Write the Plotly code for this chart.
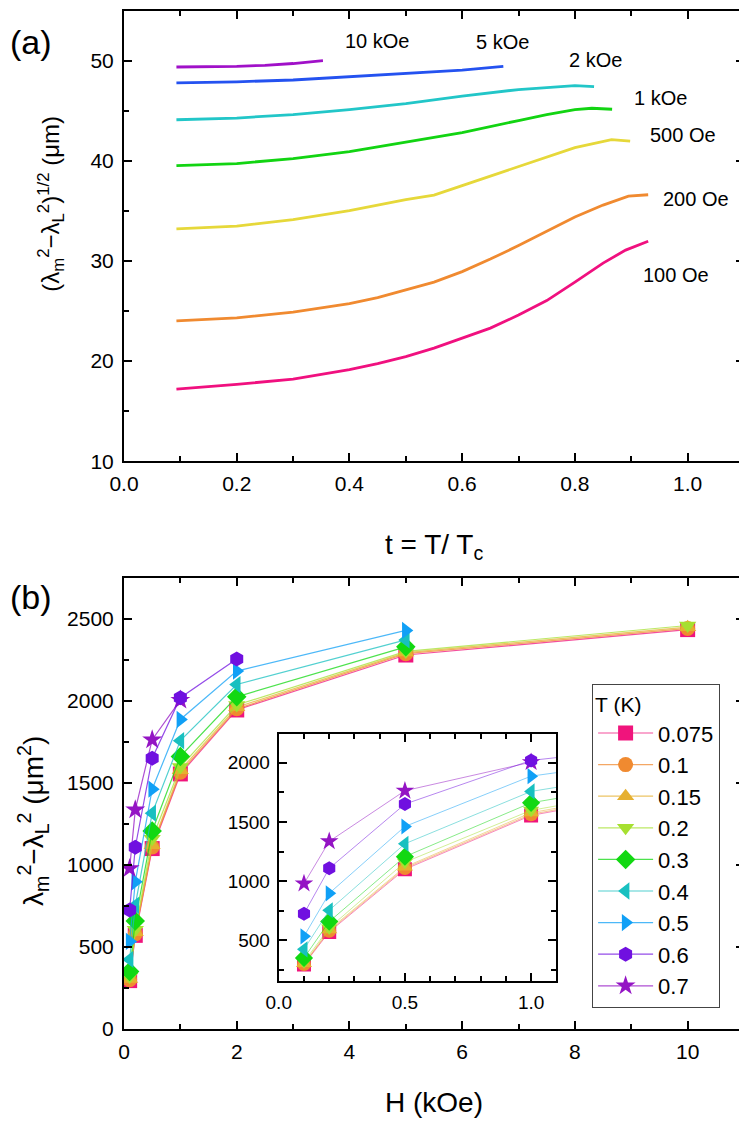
import plotly.graph_objects as go

# ---- panel (a): (lambda_m^2 - lambda_L^2)^1/2 vs t, one curve per field
fields_a = ['100 Oe', '200 Oe', '500 Oe', '1 kOe', '2 kOe', '5 kOe', '10 kOe']
colors_a = ['#f0107f', '#f08a30', '#e6d83a', '#12d412', '#22c6c8', '#2452f0', '#a010c8']

t_100 = [0.093, 0.2, 0.3, 0.4, 0.45, 0.5, 0.55, 0.6, 0.65, 0.7, 0.75, 0.8, 0.85, 0.89, 0.93]
v_100 = [17.21, 17.68, 18.2, 19.15, 19.75, 20.45, 21.3, 22.3, 23.3, 24.6, 26.05, 27.9, 29.8, 31.1, 31.98]
t_200 = [0.093, 0.2, 0.3, 0.4, 0.45, 0.5, 0.55, 0.6, 0.65, 0.7, 0.75, 0.8, 0.85, 0.895, 0.93]
v_200 = [24.02, 24.33, 24.9, 25.75, 26.35, 27.1, 27.9, 28.95, 30.2, 31.55, 32.95, 34.4, 35.6, 36.5, 36.63]
t_500 = [0.093, 0.2, 0.3, 0.4, 0.5, 0.55, 0.6, 0.7, 0.8, 0.865, 0.898]
v_500 = [33.23, 33.5, 34.15, 35.05, 36.15, 36.6, 37.55, 39.45, 41.35, 42.15, 42.0]
t_1k = [0.093, 0.2, 0.3, 0.4, 0.5, 0.6, 0.7, 0.75, 0.8, 0.83, 0.866]
v_1k = [39.54, 39.75, 40.25, 40.95, 41.9, 42.85, 44.05, 44.65, 45.15, 45.28, 45.18]
t_2k = [0.093, 0.2, 0.3, 0.4, 0.5, 0.6, 0.7, 0.75, 0.8, 0.834]
v_2k = [44.13, 44.3, 44.65, 45.15, 45.75, 46.5, 47.15, 47.35, 47.55, 47.45]
t_5k = [0.093, 0.15, 0.2, 0.3, 0.4, 0.5, 0.6, 0.673]
v_5k = [47.82, 47.85, 47.92, 48.1, 48.45, 48.75, 49.08, 49.47]
t_10k = [0.093, 0.15, 0.2, 0.25, 0.3, 0.353]
v_10k = [49.4, 49.42, 49.47, 49.57, 49.75, 50.03]

# label positions (data coords of panel a)
label_t = [0.98, 1.015, 0.992, 0.952, 0.836, 0.671, 0.449]
label_v = [28.6, 36.2, 42.6, 46.3, 50.1, 51.95, 52.0]

# ---- panel (b): lambda_m^2 - lambda_L^2 vs H, one series per temperature
H = [0.1, 0.2, 0.5, 1, 2, 5, 10]
temps = ['0.075', '0.1', '0.15', '0.2', '0.3', '0.4', '0.5', '0.6', '0.7']
d_0075 = [295, 571, 1100, 1555, 1945, 2280, 2435]
d_01 = [300, 580, 1110, 1565, 1952, 2288, 2442]
d_015 = [305, 590, 1120, 1578, 1962, 2295, 2450]
d_02 = [318, 605, 1160, 1598, 1975, 2302, 2460]
d_03 = [351, 658, 1207, 1662, 2025, 2330]
d_04 = [424, 754, 1316, 1758, 2100, 2372]
d_05 = [534, 897, 1462, 1887, 2182, 2430]
d_06 = [725, 1108, 1651, 2020, 2255]
d_07 = [979, 1336, 1764, 2005]
colors_b = ['#f0147c', '#f08a30', '#e6b030', '#a6e030', '#12d812', '#18c0c0', '#10a0f6', '#7010e0', '#9414c4']
symbols_b = ['square', 'circle', 'triangle-up', 'triangle-down', 'diamond',
             'triangle-left', 'triangle-right', 'hexagon', 'star']

FONT = 'Liberation Sans, Arial, Helvetica, sans-serif'


def rgba(hexc, a):
    h = hexc.lstrip('#')
    return 'rgba({},{},{},{})'.format(int(h[0:2], 16), int(h[2:4], 16), int(h[4:6], 16), a)


fig = go.Figure()

curves = [(t_100, v_100), (t_200, v_200), (t_500, v_500), (t_1k, v_1k),
          (t_2k, v_2k), (t_5k, v_5k), (t_10k, v_10k)]
for i, (tt, vv) in enumerate(curves):
    fig.add_trace(go.Scatter(x=tt, y=vv, mode='lines', line=dict(color=colors_a[i], width=2.8),
                             showlegend=False, xaxis='x', yaxis='y'))
    fig.add_annotation(x=label_t[i], y=label_v[i], xref='x', yref='y', text=fields_a[i],
                       showarrow=False, font=dict(size=20, family=FONT, color='black'))

series_b = [d_0075, d_01, d_015, d_02, d_03, d_04, d_05, d_06, d_07]
# star (0.7) drawn before the hexagon (0.6) so the hexagon sits on top, legend order kept by rank
order = [0, 1, 2, 3, 4, 5, 6, 8, 7]
for i in order:
    yy = series_b[i]
    xx = H[:len(yy)]
    fig.add_trace(go.Scatter(x=xx, y=yy, mode='lines+markers', name=temps[i], legendrank=i + 1,
                             line=dict(color=rgba(colors_b[i], 0.75), width=1.2),
                             marker=dict(symbol=symbols_b[i], size=15, color=colors_b[i], line=dict(width=0)),
                             xaxis='x2', yaxis='y2'))
for i in order:
    yy = series_b[i]
    xx = H[:len(yy)]
    fig.add_trace(go.Scatter(x=xx, y=yy, mode='lines+markers', showlegend=False,
                             line=dict(color=rgba(colors_b[i], 0.5), width=1),
                             marker=dict(symbol=symbols_b[i], size=14, color=colors_b[i], line=dict(width=0)),
                             xaxis='x3', yaxis='y3'))

minor_tk = dict(ticks='inside', ticklen=5, tickwidth=1.5, tickcolor='black')
ax_common = dict(showline=True, linecolor='black', linewidth=2, mirror='allticks', ticks='inside',
                 ticklen=8, tickwidth=1.5, tickcolor='black', showgrid=False, zeroline=False,
                 tickfont=dict(size=21, family=FONT, color='black'))

# the page adds an 8 px body margin, so the figure is 8 px smaller than the window on each axis
fig.update_layout(
    width=739, height=1119,
    margin=dict(l=116, r=2, t=1, b=98),
    plot_bgcolor='white', paper_bgcolor='white',
    font=dict(family=FONT, color='black'),
    xaxis=dict(ax_common, domain=[0, 1], anchor='y', range=[0, 1.1], tick0=0, dtick=0.2,
               tickformat='.1f', ticklabelstandoff=3, minor=dict(minor_tk, dtick=0.1)),
    yaxis=dict(ax_common, domain=[0.5578, 1], anchor='x', range=[10, 55], tick0=10, dtick=10,
               ticklabelstandoff=4, minor=dict(minor_tk, dtick=5)),
    xaxis2=dict(ax_common, domain=[0, 1], anchor='y2', range=[0, 11], tick0=0, dtick=2,
                ticklabelstandoff=3, minor=dict(minor_tk, dtick=1)),
    yaxis2=dict(ax_common, domain=[0, 0.4431], anchor='x2', range=[0, 2750], tick0=0, dtick=500,
                ticklabelstandoff=4, minor=dict(minor_tk, dtick=250)),
    xaxis3=dict(ax_common, domain=[0.2496, 0.6973], anchor='y3', range=[0, 1.1], tick0=0, dtick=0.5,
                tickformat='.1f', tickfont=dict(size=19, family=FONT, color='black'),
                ticklabelstandoff=3, minor=dict(minor_tk, dtick=0.1)),
    yaxis3=dict(ax_common, domain=[0.047, 0.29], anchor='x3', range=[155, 2245], tick0=0, dtick=500,
                tickfont=dict(size=19, family=FONT, color='black'),
                ticklabelstandoff=3, minor=dict(minor_tk, dtick=250)),
    legend=dict(x=0.755, y=0.339, xanchor='left', yanchor='top', bgcolor='white',
                bordercolor='#444444', borderwidth=1, font=dict(size=22, family=FONT),
                title=dict(text='T (K)', font=dict(size=21, family=FONT)),
                tracegroupgap=0, itemwidth=55),
)

# axis titles as annotations so they can sit where the reference has them
title_font = dict(size=27, family=FONT, color='black')
fig.add_annotation(x=-0.119, y=0.8108, xref='paper', yref='paper', textangle=-90,
                   text='(λ<sub>m</sub><sup>2</sup>−λ<sub>L</sub><sup>2</sup>)<sup>1/2</sup> (μm)',
                   showarrow=False, xanchor='center', yanchor='middle', font=dict(title_font, size=24))
fig.add_annotation(x=-0.146, y=0.2049, xref='paper', yref='paper', textangle=-90,
                   text='λ<sub>m</sub><sup>2</sup>−λ<sub>L</sub><sup>2</sup> (μm<sup>2</sup>)',
                   showarrow=False, xanchor='center', yanchor='middle', font=dict(title_font, size=28))
fig.add_annotation(x=0.5, y=0.4735, xref='paper', yref='paper', text='t = T/ T<sub>c</sub>',
                   showarrow=False, xanchor='center', yanchor='middle', font=dict(title_font, size=28))
fig.add_annotation(x=0.5, y=-0.0725, xref='paper', yref='paper', text='H (kOe)',
                   showarrow=False, xanchor='center', yanchor='middle', font=dict(title_font, size=28))

fig.add_annotation(x=-0.1868, y=0.9696, xref='paper', yref='paper', text='(a)', showarrow=False,
                   xanchor='left', yanchor='middle', font=dict(size=34, family=FONT))
fig.add_annotation(x=-0.1868, y=0.4245, xref='paper', yref='paper', text='(b)', showarrow=False,
                   xanchor='left', yanchor='middle', font=dict(size=34, family=FONT))

fig.write_html("out.html")
